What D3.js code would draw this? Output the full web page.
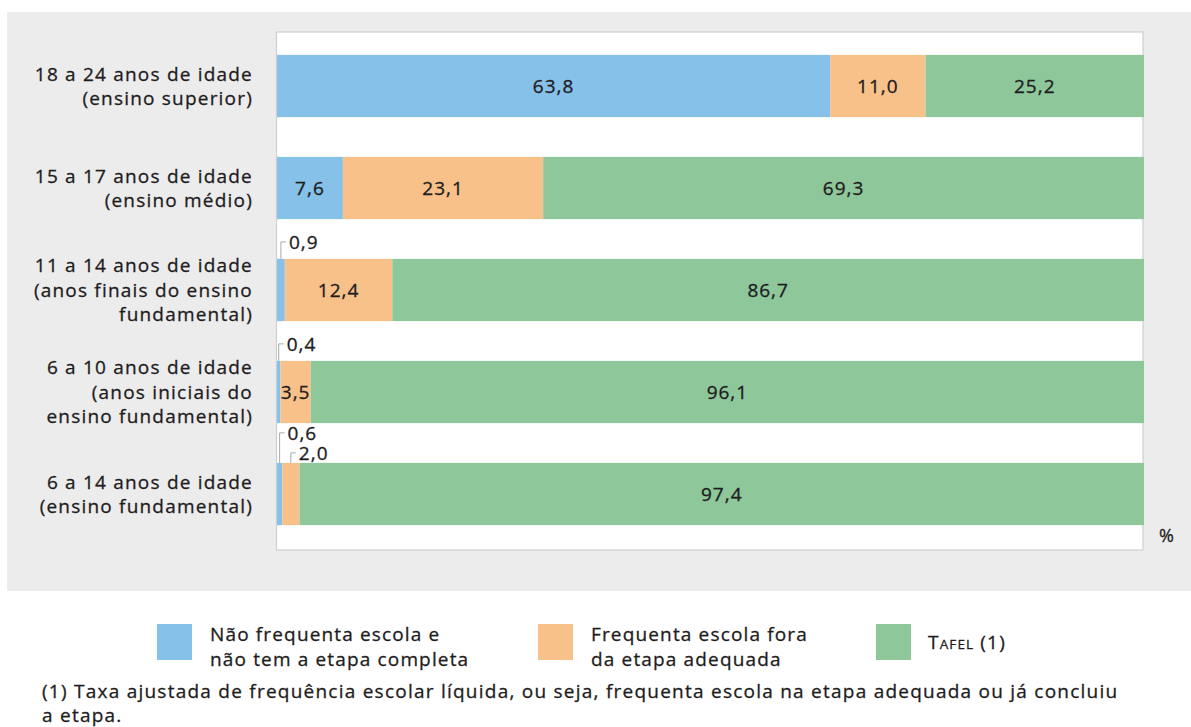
<!DOCTYPE html>
<html><head><meta charset="utf-8">
<script src="https://cdn.jsdelivr.net/npm/d3@7"></script>
<style>
body{margin:0;background:#fff;}
text{font-family:"Open Sans","Liberation Sans",sans-serif;fill:#1e1c1d;stroke:#1e1c1d;stroke-width:0.3px;}
</style></head>
<body><svg id="c" width="1191" height="727"></svg>
<script>
// ---- data ----
const categories = [
  ["18 a 24 anos de idade","(ensino superior)"],
  ["15 a 17 anos de idade","(ensino médio)"],
  ["11 a 14 anos de idade","(anos finais do ensino","fundamental)"],
  ["6 a 10 anos de idade","(anos iniciais do","ensino fundamental)"],
  ["6 a 14 anos de idade","(ensino fundamental)"]
];
const naoFrequenta = [63.8, 7.6, 0.9, 0.4, 0.6];
const foraEtapa    = [11.0, 23.1, 12.4, 3.5, 2.0];
const tafel        = [25.2, 69.3, 86.7, 96.1, 97.4];
const seriesNames = [["Não frequenta escola e","não tem a etapa completa"],["Frequenta escola fora","da etapa adequada"],["TAFEL (1)"]];
const colors = ["#85c1e9","#f9c18a","#8dc79a"];
const footnote = ["(1) Taxa ajustada de frequência escolar líquida, ou seja, frequenta escola na etapa adequada ou já concluiu","a etapa."];
const unitLabel = "%";

const fmt = v => d3.format(".1f")(v).replace(".", ",");

const svg = d3.select("#c");
svg.append("rect").attr("x",7).attr("y",12).attr("width",1184).attr("height",579).attr("fill","#ececec");

const X0 = 277, X1 = 1144;
const x = d3.scaleLinear().domain([0,100]).range([X0,X1]);
const idx = d3.range(categories.length);
const y = d3.scaleBand().domain(idx).range([35,545]).paddingInner(0.39).paddingOuter(0.195);

svg.append("rect").attr("x",X0-0.5).attr("y",32).attr("width",X1-X0-0.5).attr("height",518)
  .attr("fill","#fff").attr("stroke","#cfcfcf").attr("stroke-width",1.2);

const series = [naoFrequenta, foraEtapa, tafel];
const rows = idx.map(i => ({i, v: series.map(s => s[i])}));
const stack = d3.stack().keys([0,1,2]).value((d,k)=>d.v[k]);
const stacked = stack(rows);

const g = svg.append("g");
stacked.forEach((layer,k)=>{
  g.selectAll(null).data(layer).enter().append("rect")
    .attr("x",d=>x(d[0])).attr("y",d=>y(d.data.i))
    .attr("width",d=>x(d[1])-x(d[0])).attr("height",y.bandwidth())
    .attr("fill",colors[k]);
});

const LS = "1px";
const FS = 19;
rows.forEach((r,ri)=>{
  const small = [];
  stacked.forEach((layer,k)=>{
    const d = layer[ri]; const v = r.v[k];
    const cx = (x(d[0])+x(d[1]))/2;
    if (v >= 3) {
      g.append("text").attr("x",cx).attr("y",y(ri)+y.bandwidth()/2).attr("dy","0.36em")
        .attr("text-anchor","middle").attr("font-size",FS).style("letter-spacing",LS).text(fmt(v));
    } else small.push({cx, v});
  });
  const top = y(ri);
  const offs = small.length > 1 ? [30,10] : [17];
  small.forEach((s,j)=>{
    const ly = top - offs[j];
    g.append("path").attr("d",`M${s.cx},${top} V${ly} H${s.cx+5}`)
      .attr("fill","none").attr("stroke","#aaa").attr("stroke-width",1);
    g.append("text").attr("x",s.cx+8).attr("y",ly).attr("dy","0.36em")
      .attr("font-size",FS).style("letter-spacing",LS).text(fmt(s.v));
  });
});

categories.forEach((lines,i)=>{
  const cy = y(i)+y.bandwidth()/2;
  const t = svg.append("text").attr("text-anchor","end").attr("font-size",19).style("letter-spacing","1.2px");
  lines.forEach((ln,j)=>{
    t.append("tspan").attr("x",253).attr("y",cy+(j-(lines.length-1)/2)*24.5).attr("dy","0.36em").text(ln);
  });
});

svg.append("text").attr("x",1159).attr("y",536).attr("dy","0.36em").attr("font-size",18).text(unitLabel);

const legX = [157,538,876];
seriesNames.forEach((nm,k)=>{
  svg.append("rect").attr("x",legX[k]).attr("y",624).attr("width",35).attr("height",36).attr("fill",colors[k]);
  const t = svg.append("text").attr("font-size",19).style("letter-spacing","1.15px");
  if (k===2) {
    t.attr("x",legX[k]+52).attr("y",642).attr("dy","0.36em");
    t.append("tspan").text("T");
    t.append("tspan").attr("font-size",13.5).text("AFEL");
    t.append("tspan").text(" (1)");
  } else {
    nm.forEach((ln,j)=>{
      t.append("tspan").attr("x",legX[k]+53).attr("y",634+j*25).attr("dy","0.36em").text(ln);
    });
  }
});

footnote.forEach((ln,j)=>{
  svg.append("text").attr("x",42).attr("y",691+j*24.5).attr("dy","0.36em").attr("font-size",19)
    .style("letter-spacing","1.24px").text(ln);
});
</script></body></html>
